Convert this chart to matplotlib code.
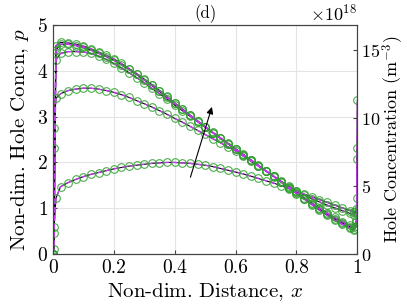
import numpy as np
import matplotlib
matplotlib.use("Agg")
import matplotlib.pyplot as plt
from matplotlib.ticker import ScalarFormatter

plt.rcParams["font.family"] = "serif"
plt.rcParams["font.serif"] = ["cmr10", "DejaVu Serif"]
plt.rcParams["mathtext.fontset"] = "cm"
plt.rcParams["axes.formatter.use_mathtext"] = True
plt.rcParams["axes.unicode_minus"] = False

# -------------------------------
# Data
# -------------------------------
x_mid = [0.025, 0.05, 0.075, 0.1, 0.125, 0.15, 0.175, 0.2, 0.225, 0.25,
         0.275, 0.3, 0.325, 0.35, 0.375, 0.4, 0.425, 0.45, 0.475, 0.5,
         0.525, 0.55, 0.575, 0.6, 0.625, 0.65, 0.675, 0.7, 0.725, 0.75,
         0.775, 0.8, 0.825, 0.85, 0.875, 0.9, 0.925, 0.95, 0.975]
x_left = [0.0, 0.004, 0.01]
x_right = [0.99, 0.997, 1.0]

p_A = [1.47, 1.56, 1.63, 1.69, 1.74, 1.78, 1.82, 1.86, 1.89, 1.92,
       1.94, 1.96, 1.98, 1.99, 2.00, 2.00, 1.99, 1.98, 1.96, 1.94,
       1.91, 1.87, 1.83, 1.79, 1.75, 1.70, 1.65, 1.60, 1.55, 1.49,
       1.43, 1.37, 1.31, 1.25, 1.19, 1.13, 1.07, 1.01, 0.95]
p_B = [3.50, 3.57, 3.60, 3.62, 3.62, 3.60, 3.57, 3.53, 3.48, 3.42,
       3.35, 3.28, 3.21, 3.13, 3.05, 2.96, 2.88, 2.79, 2.70, 2.61,
       2.52, 2.43, 2.34, 2.25, 2.14, 2.03, 1.92, 1.81, 1.70, 1.59,
       1.48, 1.38, 1.29, 1.21, 1.14, 1.07, 1.01, 0.95, 0.89]
p_C = [4.38, 4.42, 4.42, 4.41, 4.38, 4.32, 4.25, 4.16, 4.06, 3.96,
       3.85, 3.74, 3.62, 3.50, 3.38, 3.25, 3.13, 3.01, 2.89, 2.77,
       2.65, 2.53, 2.41, 2.29, 2.17, 2.05, 1.93, 1.81, 1.70, 1.58,
       1.46, 1.35, 1.23, 1.12, 1.01, 0.90, 0.80, 0.71, 0.63]
p_D = [4.58, 4.58, 4.55, 4.51, 4.45, 4.38, 4.31, 4.23, 4.13, 4.03,
       3.92, 3.80, 3.68, 3.55, 3.42, 3.29, 3.16, 3.03, 2.90, 2.77,
       2.65, 2.53, 2.41, 2.29, 2.17, 2.05, 1.93, 1.81, 1.69, 1.57,
       1.45, 1.33, 1.21, 1.09, 0.98, 0.87, 0.77, 0.68, 0.60]
p_E = [4.62, 4.61, 4.58, 4.54, 4.48, 4.41, 4.34, 4.26, 4.16, 4.05,
       3.94, 3.82, 3.70, 3.57, 3.44, 3.30, 3.17, 3.04, 2.91, 2.78,
       2.66, 2.54, 2.42, 2.30, 2.18, 2.06, 1.94, 1.82, 1.70, 1.57,
       1.45, 1.32, 1.20, 1.08, 0.96, 0.85, 0.74, 0.65, 0.57]

left_A, right_A = [0.0, 0.59, 1.22], [0.91, 0.98, 1.22]
left_B, right_B = [0.0, 2.75, 3.40], [0.86, 0.95, 2.07]
left_C, right_C = [0.0, 2.31, 4.24], [0.58, 0.75, 2.31]
left_D, right_D = [0.0, 0.46, 4.45], [0.55, 0.70, 3.36]
left_E, right_E = [0.0, 0.10, 4.55], [0.53, 0.62, 0.90]

curves = [(left_A, p_A, right_A), (left_B, p_B, right_B),
          (left_C, p_C, right_C), (left_D, p_D, right_D),
          (left_E, p_E, right_E)]

p_scale = 3.37e18   # m^-3 per unit p (right axis)

# -------------------------------
# Plot
# -------------------------------
fig = plt.figure(figsize=(4.07, 3.05), dpi=100)
ax = fig.add_axes([0.130, 0.167, 0.748, 0.751])

x_all = np.array(x_left + x_mid + x_right)
for lft, mid, rgt in curves:
    p_all = np.array(lft + mid + rgt)
    ax.plot(x_all, p_all, color="black", lw=0.8, zorder=3)
    ax.plot(x_all, p_all, color="#c43cf0", lw=1.0, ls=(0, (4, 2)), zorder=4)
    ax.plot(x_all, p_all, ls="none", marker="o", ms=5.5, mfc="none",
            mec="#2e9e2e", mew=0.8, alpha=0.85, zorder=5)

ax.annotate("", xy=(0.525, 3.27), xytext=(0.449, 1.62),
            arrowprops=dict(arrowstyle="-|>", color="black", lw=0.8,
                            mutation_scale=10), zorder=6)

ax.set_xlim(0, 1)
ax.set_ylim(0, 5)
ax.set_xticks([0, 0.2, 0.4, 0.6, 0.8, 1])
ax.set_xticklabels(["0", "0.2", "0.4", "0.6", "0.8", "1"])
ax.set_yticks([0, 1, 2, 3, 4, 5])
ax.grid(True, color="#e4e4e4", lw=0.8)
ax.set_axisbelow(True)
ax.tick_params(direction="in", labelsize=14, length=3, color="#444444")
for s in ax.spines.values():
    s.set_color("#444444")
    s.set_linewidth(0.8)
ax.set_xlabel("Non-dim. Distance, $x$", fontsize=15, labelpad=3)
ax.set_ylabel("Non-dim. Hole Concn, $p$", fontsize=15, labelpad=4)
ax.set_title("(d)", fontsize=12, pad=5)

ax2 = ax.twinx()
ax2.set_ylim(0, 5 * p_scale)
ax2.set_yticks([0, 5e18, 10e18, 15e18])
fmt = ScalarFormatter(useMathText=True)
fmt.set_powerlimits((18, 18))
ax2.yaxis.set_major_formatter(fmt)
ax2.yaxis.get_offset_text().set_fontsize(13)
ax2.tick_params(direction="in", labelsize=13, length=3, color="#444444",
                pad=2.5)
for s in ax2.spines.values():
    s.set_color("#444444")
    s.set_linewidth(0.8)
ax2.set_ylabel("Hole Concentration (m$^{-3}$)", fontsize=13, labelpad=0.5)

fig.savefig("out.png", dpi=100)
